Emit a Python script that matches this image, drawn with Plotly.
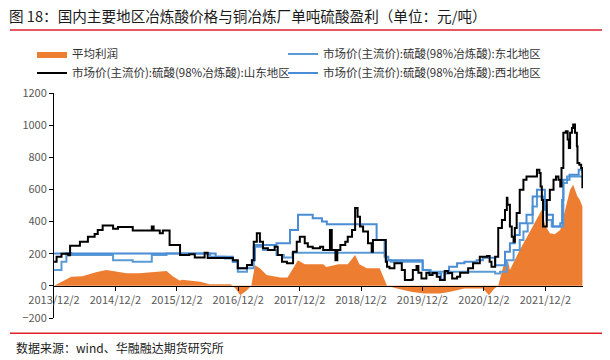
import plotly.graph_objects as go

# ---- data (x values are decimal years) ----
profit_t = [2013.92, 2014.04, 2014.20, 2014.38, 2014.60, 2014.77, 2014.88, 2015.10, 2015.31, 2015.53,
            2015.75, 2015.85, 2015.97, 2016.00, 2016.30, 2016.45, 2016.80, 2016.88, 2016.95, 2017.05,
            2017.13, 2017.19, 2017.27, 2017.38, 2017.60, 2017.72, 2017.81, 2017.89, 2018.00, 2018.30,
            2018.35, 2018.55, 2018.70, 2018.82, 2018.89, 2019.01, 2019.22, 2019.30, 2019.34, 2019.50,
            2019.75, 2019.95, 2020.20, 2020.35, 2020.60, 2020.90, 2021.00, 2021.08, 2021.15, 2021.23,
            2021.31, 2021.34, 2021.39, 2021.50, 2021.62, 2021.71, 2021.80, 2021.86, 2021.91, 2021.99,
            2022.07, 2022.16, 2022.24, 2022.32, 2022.37, 2022.44, 2022.48, 2022.52]
profit_v = [0, 25, 56, 60, 85, 98, 91, 78, 78, 85,
            92, 60, 32, 38, 25, 10, 10, -20, -58, -30,
            0, 129, 110, 67, 52, 52, 110, 160, 135, 135,
            118, 135, 135, 192, 135, 110, 110, 40, 0, -17,
            -38, -48, -48, -38, -17, -17, -58, -20, 0, 119,
            150, 98, 140, 223, 306, 369, 431, 473, 379, 327,
            321, 348, 473, 598, 629, 556, 535, 494]

sd_t = [2013.92, 2013.96, 2014.04, 2014.15, 2014.18, 2014.34, 2014.47, 2014.58, 2014.63, 2014.71,
        2014.88, 2014.96, 2015.20, 2015.51, 2015.54, 2015.64, 2015.69, 2015.80, 2015.97, 2016.12,
        2016.21, 2016.37, 2016.42, 2016.83, 2016.91, 2017.06, 2017.14, 2017.17, 2017.22, 2017.27,
        2017.32, 2017.40, 2017.51, 2017.56, 2017.63, 2017.71, 2017.81, 2017.87, 2017.92, 2018.00,
        2018.05, 2018.13, 2018.25, 2018.30, 2018.41, 2018.44, 2018.50, 2018.53, 2018.58, 2018.66,
        2018.70, 2018.77, 2018.82, 2018.86, 2018.90, 2018.95, 2019.03, 2019.09, 2019.11, 2019.32,
        2019.34, 2019.38, 2019.46, 2019.58, 2019.63, 2019.74, 2019.76, 2019.82, 2019.85, 2019.90,
        2019.98, 2020.03, 2020.08, 2020.15, 2020.20, 2020.28, 2020.33, 2020.40, 2020.48, 2020.53,
        2020.66, 2020.74, 2020.85, 2020.97, 2021.01, 2021.04, 2021.10, 2021.15, 2021.21, 2021.26,
        2021.29, 2021.30, 2021.34, 2021.37, 2021.40, 2021.42, 2021.45, 2021.50, 2021.56, 2021.61,
        2021.75, 2021.78, 2021.82, 2021.84, 2021.86, 2021.88, 2021.91, 2021.94, 2021.99, 2022.05,
        2022.09, 2022.13, 2022.16, 2022.18, 2022.21, 2022.25, 2022.28, 2022.30, 2022.32, 2022.35,
        2022.37, 2022.40, 2022.43, 2022.44, 2022.47, 2022.50, 2022.52]
sd_v = [150, 181, 200, 190, 250, 275, 306, 323, 348, 375,
        356, 367, 344, 370, 344, 328, 344, 255, 192, 196,
        177, 206, 173, 160, 110, 130, 160, 275, 327, 275,
        234, 223, 244, 192, 150, 140, 212, 275, 306, 265,
        244, 234, 244, 223, 348, 223, 160, 223, 254, 275,
        306, 348, 484, 430, 369, 338, 265, 212, 286, 150,
        119, 109, 140, 98, 36, 40, 98, 123, 81, 46,
        81, 67, 80, 56, 36, 92, 80, 46, 56, 81,
        109, 140, 181, 186, 150, 119, 181, 360, 410, 472,
        548, 504, 369, 306, 275, 360, 454, 598, 660, 681,
        681, 723, 702, 618, 535, 369, 369, 535, 598, 660,
        681, 660, 618, 733, 952, 962, 910, 858, 952, 983,
        1004, 952, 869, 765, 754, 733, 608]

nw_t = [2013.92, 2016.55, 2016.83, 2016.91, 2017.06, 2017.14, 2017.19, 2017.54, 2017.76, 2017.89,
        2018.13, 2018.28, 2018.36, 2019.17, 2019.30, 2019.36, 2019.92, 2020.03, 2020.22, 2020.27,
        2020.35, 2020.48, 2020.60, 2020.80, 2020.90, 2021.10, 2021.26, 2021.34, 2021.42, 2021.50,
        2021.61, 2021.71, 2021.78, 2021.91, 2021.94, 2022.04, 2022.16, 2022.19, 2022.21, 2022.31,
        2022.46, 2022.52]
nw_v = [202, 181, 150, 109, 129, 160, 254, 265, 348, 442,
        421, 400, 384, 286, 181, 160, 98, 77, 40, 77,
        119, 140, 150, 160, 175, 129, 212, 265, 317, 390,
        442, 556, 598, 473, 442, 369, 390, 535, 660, 692,
        723, 700]

ne_t = [2013.92, 2014.04, 2014.12, 2014.20, 2014.88, 2015.20, 2015.51, 2015.75, 2016.46, 2016.70,
        2016.83, 2016.91, 2017.06, 2017.17, 2017.32, 2017.54, 2017.66, 2017.80, 2019.32, 2019.40,
        2019.92, 2020.05, 2021.04, 2021.10, 2021.18, 2021.29, 2021.40, 2021.50, 2021.56, 2021.63,
        2021.71, 2021.78, 2021.88, 2021.94, 2022.02, 2022.21, 2022.27, 2022.52]
ne_v = [98, 150, 205, 192, 160, 150, 192, 202, 181, 171,
        150, 88, 110, 244, 223, 192, 176, 206, 160, 150,
        98, 88, 88, 77, 88, 160, 223, 286, 338, 390,
        494, 556, 494, 410, 369, 640, 681, 681]

tick_years = [2013, 2014, 2015, 2016, 2017, 2018, 2019, 2020, 2021]
tick_text = [f"{y}/12/2" for y in tick_years]
tick_vals = [y + 335 / 365 for y in tick_years]
y_ticks = [-200, 0, 200, 400, 600, 800, 1000, 1200]

names = ["平均利润",
         "市场价(主流价):硫酸(98%冶炼酸):东北地区",
         "市场价(主流价):硫酸(98%冶炼酸):山东地区",
         "市场价(主流价):硫酸(98%冶炼酸):西北地区"]

fig = go.Figure()
fig.add_trace(go.Scatter(x=profit_t, y=profit_v, name=names[0], mode="lines",
                         line=dict(width=0, color="#ED7D31"), fill="tozeroy",
                         fillcolor="#ED7D31", legend="legend", legendrank=1))
fig.add_trace(go.Scatter(x=ne_t, y=ne_v, name=names[1], mode="lines",
                         line=dict(width=2, color="#5B9BD5", shape="hv"),
                         legend="legend2", legendrank=1))
fig.add_trace(go.Scatter(x=nw_t, y=nw_v, name=names[3], mode="lines",
                         line=dict(width=2, color="#4A8CD6", shape="hv"),
                         legend="legend2", legendrank=2))
fig.add_trace(go.Scatter(x=sd_t, y=sd_v, name=names[2], mode="lines",
                         line=dict(width=2, color="#000000", shape="hv"),
                         legend="legend", legendrank=2))

font_cn = "Noto Sans CJK SC, Noto Sans, sans-serif"
leg_common = dict(orientation="v", yanchor="top", xanchor="left", traceorder="normal",
                  font=dict(family=font_cn, size=11.5, color="#333333"),
                  bgcolor="rgba(0,0,0,0)", itemwidth=30, tracegroupgap=0)

fig.update_layout(
    width=610, height=360,
    margin=dict(l=54, r=27, t=93, b=42),
    paper_bgcolor="white", plot_bgcolor="white",
    font=dict(family=font_cn, size=11, color="#595959"),
    showlegend=True,
    legend=dict(x=(32 - 54) / 529, y=1.238, **leg_common),
    legend2=dict(x=(283 - 54) / 529, y=1.238, **leg_common),
    xaxis=dict(range=[2013.918, 2022.53], tickvals=tick_vals, ticktext=tick_text,
               showgrid=False, zeroline=False, showline=True, linecolor="#000000",
               linewidth=1, ticks="outside", ticklen=4, tickcolor="#000000",
               anchor="free", position=200 / 1400,
               tickfont=dict(family=font_cn, size=11, color="#595959")),
    yaxis=dict(range=[-200, 1200], tickvals=y_ticks, showgrid=False, zeroline=False,
               showline=True, linecolor="#000000", linewidth=1, ticks="outside",
               ticklen=4, tickcolor="#000000",
               tickfont=dict(family=font_cn, size=11, color="#595959")),
)

fig.add_annotation(text="图 18：国内主要地区冶炼酸价格与铜冶炼厂单吨硫酸盈利（单位：元/吨）",
                   xref="paper", yref="paper", x=(7 - 54) / 529, y=(317.7 - 16) / 224.7,
                   xanchor="left", yanchor="middle", showarrow=False,
                   font=dict(family=font_cn, size=14.6, color="#1a1a1a"))
fig.add_annotation(text="数据来源：wind、华融融达期货研究所",
                   xref="paper", yref="paper", x=(14 - 54) / 529, y=(317.7 - 347) / 224.7,
                   xanchor="left", yanchor="middle", showarrow=False,
                   font=dict(family=font_cn, size=12, color="#1a1a1a"))
for yp in [30, 333]:
    fig.add_shape(type="line", xref="paper", yref="paper",
                  x0=(10 - 54) / 529, x1=(602 - 54) / 529,
                  y0=(317.7 - yp) / 224.7, y1=(317.7 - yp) / 224.7,
                  line=dict(color="#E0202A", width=1.5))

fig.write_html("out.html")
